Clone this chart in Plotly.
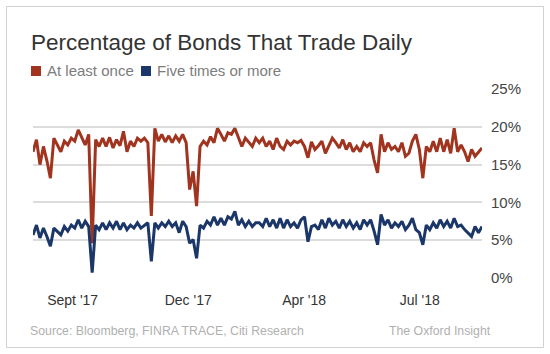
import plotly.graph_objects as go

at_least_once = [
    16.7, 18.3, 15.0, 17.4, 15.5, 13.2, 18.5, 17.5, 16.7, 18.1,
    17.6, 18.5, 18.1, 19.6, 18.7, 17.6, 19.0, 4.6, 18.3, 17.4,
    18.5, 17.4, 18.6, 17.2, 18.3, 17.5, 19.4, 16.7, 18.1, 17.4,
    18.5, 18.1, 18.5, 17.9, 8.2, 19.8, 18.1, 19.0, 18.0, 18.8,
    17.9, 18.8, 18.1, 19.0, 17.9, 11.7, 14.1, 9.5, 17.4, 18.1,
    17.6, 18.7, 17.9, 19.8, 19.0, 18.1, 19.2, 19.0, 19.8, 18.7,
    17.4, 18.5, 17.9, 17.4, 18.5, 17.9, 18.5, 17.4, 18.1, 17.0,
    18.5, 17.4, 17.0, 18.1, 17.6, 18.1, 17.9, 18.2, 17.4, 15.9,
    18.0, 17.0, 17.5, 18.1, 16.5, 17.6, 18.5, 17.9, 17.2, 18.3,
    17.0, 17.9, 16.7, 17.4, 16.7, 17.9, 17.4, 17.9, 15.6, 13.9,
    19.0, 16.7, 17.9, 17.0, 17.4, 16.7, 17.9, 16.1, 16.5, 18.1,
    19.0, 17.0, 13.2, 17.4, 16.7, 18.1, 16.7, 18.5, 16.7, 18.3,
    16.5, 19.8, 16.7, 17.6, 16.7, 15.4, 17.0, 16.1, 16.7, 17.2,
]
five_or_more = [
    5.7, 7.0, 5.3, 6.6, 5.5, 4.2, 6.6, 6.2, 5.7, 6.8,
    6.2, 7.0, 6.6, 7.7, 6.6, 7.5, 6.8, 0.7, 7.0, 6.4,
    7.3, 6.4, 7.3, 6.6, 7.5, 6.4, 7.3, 6.4, 7.0, 6.6,
    7.3, 6.6, 7.0, 7.3, 2.2, 7.3, 6.6, 7.3, 6.8, 7.5,
    6.8, 7.3, 6.0, 7.5, 6.8, 4.6, 5.1, 2.6, 7.0, 6.6,
    7.5, 7.0, 8.1, 7.0, 7.9, 7.0, 8.1, 7.8, 8.8, 7.0,
    7.7, 6.8, 7.5, 6.8, 7.3, 7.3, 6.8, 7.9, 6.8, 7.7,
    6.6, 7.9, 6.6, 7.7, 6.8, 7.3, 6.6, 7.7, 8.1, 4.8,
    6.8, 7.0, 6.4, 7.7, 6.6, 7.9, 7.0, 7.5, 6.6, 7.7,
    6.8, 7.5, 6.6, 7.3, 6.4, 7.7, 7.0, 7.7, 6.2, 4.4,
    8.4, 7.0, 7.7, 6.6, 7.3, 6.8, 7.5, 6.4, 7.0, 7.9,
    6.4, 6.0, 4.4, 7.0, 6.4, 7.3, 6.6, 7.7, 6.8, 7.5,
    6.6, 7.9, 6.8, 7.0, 6.4, 6.0, 5.5, 6.8, 6.0, 6.8,
]
periods = list(range(len(at_least_once)))
x_tick_positions = [11.4, 44.6, 77.9, 111.1]
x_tick_labels = ["Sept '17", "Dec '17", "Apr '18", "Jul '18"]
y_tick_values = [0, 5, 10, 15, 20, 25]
y_tick_labels = ["0%", "5%", "10%", "15%", "20%", "25%"]
series_names = ["At least once", "Five times or more"]

RED = "#a0341f"
BLUE = "#1b3668"
FONT = "Liberation Sans"

W, H = 550, 354
ML, MR, MT, MB = 33, 68, 89, 76
PW, PH = W - ML - MR, H - MT - MB


def px(x):
    return (x - ML) / PW


def py(y):
    return (H - MB - y) / PH


fig = go.Figure()
fig.add_trace(go.Scatter(x=periods, y=at_least_once, mode="lines",
                         line=dict(color=RED, width=3), name=series_names[0],
                         showlegend=False))
fig.add_trace(go.Scatter(x=periods, y=five_or_more, mode="lines",
                         line=dict(color=BLUE, width=3), name=series_names[1],
                         showlegend=False))

shapes = [
    dict(type="rect", xref="paper", yref="paper",
         x0=px(6.5), x1=px(543.5), y0=py(347.5), y1=py(6.5),
         line=dict(color="#d0d0d0", width=1), fillcolor="rgba(0,0,0,0)", layer="below"),
    dict(type="rect", xref="paper", yref="paper",
         x0=px(31), x1=px(41), y0=py(76), y1=py(66),
         line=dict(width=0), fillcolor=RED),
    dict(type="rect", xref="paper", yref="paper",
         x0=px(141), x1=px(151), y0=py(76), y1=py(66),
         line=dict(width=0), fillcolor=BLUE),
]

annotations = [
    dict(text="Percentage of Bonds That Trade Daily", xref="paper", yref="paper",
         x=px(29), y=py(42), xanchor="left", yanchor="middle", showarrow=False,
         font=dict(family=FONT, size=22.5, color="#333333")),
    dict(text=series_names[0], xref="paper", yref="paper",
         x=px(45), y=py(71), xanchor="left", yanchor="middle", showarrow=False,
         font=dict(family=FONT, size=15, color="#7c7c7c")),
    dict(text=series_names[1], xref="paper", yref="paper",
         x=px(155), y=py(71), xanchor="left", yanchor="middle", showarrow=False,
         font=dict(family=FONT, size=15, color="#7c7c7c")),
    dict(text="Source: Bloomberg, FINRA TRACE, Citi Research", xref="paper", yref="paper",
         x=px(28), y=py(331), xanchor="left", yanchor="middle", showarrow=False,
         font=dict(family=FONT, size=12.3, color="#b0b0b0")),
    dict(text="The Oxford Insight", xref="paper", yref="paper",
         x=px(493), y=py(331), xanchor="right", yanchor="middle", showarrow=False,
         font=dict(family=FONT, size=12.3, color="#b0b0b0")),
]

fig.update_layout(
    width=W, height=H,
    margin=dict(l=ML, r=MR, t=MT, b=MB, pad=0),
    paper_bgcolor="white", plot_bgcolor="white",
    shapes=shapes, annotations=annotations,
    xaxis=dict(range=[0, len(periods) - 1], tickvals=x_tick_positions,
               ticktext=x_tick_labels, showgrid=False, zeroline=False,
               showline=False, ticks="outside", ticklen=9,
               tickcolor="rgba(0,0,0,0)",
               tickfont=dict(family=FONT, size=14, color="#333333")),
    yaxis=dict(range=[0, 25], tickvals=y_tick_values, ticktext=y_tick_labels,
               side="right", showgrid=True, gridcolor="#dcdcdc", gridwidth=1.5,
               zeroline=False, showline=False, ticks="outside", ticklen=5,
               tickcolor="rgba(0,0,0,0)",
               tickfont=dict(family=FONT, size=15, color="#444444")),
)

fig.write_html("out.html")
